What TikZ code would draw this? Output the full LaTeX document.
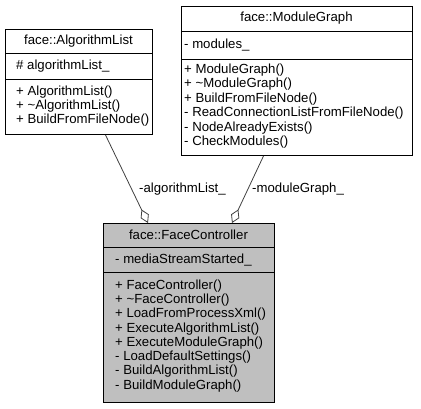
\documentclass[tikz,border=0pt]{standalone}
\usepackage{fontspec}
\setmainfont{Liberation Sans}
\usetikzlibrary{arrows.meta}

\tikzset{
  umlbox/.style={draw=black, line width=1pt, fill=white, inner sep=0pt, anchor=north west},
  divider/.style={draw=black, line width=1pt},
  title/.style={inner sep=0pt, anchor=center},
  member/.style={inner sep=0pt, anchor=west},
  aggr/.style={draw=black!75, line width=0.8pt,
    {Diamond[open, length=15pt, width=9pt, line width=0.8pt]}-},
  rolelabel/.style={inner sep=0pt, anchor=west},
}

\begin{document}
\begin{tikzpicture}[x=1pt, y=-1pt,
  every node/.append style={font=\fontsize{13.2pt}{14.3pt}\selectfont}]
\useasboundingbox (0,0) rectangle (421,408);

% --- face::AlgorithmList ---
\node[umlbox, minimum width=147pt, minimum height=105pt] (al) at (5,29) {};
\draw[divider] (5,53) -- (152,53);
\draw[divider] (5,79) -- (152,79);
\node[title]  (alT)  at (78.5,41) {face::AlgorithmList};
\node[member] (alA1) at (16,66.5) {\# algorithmList\_};
\node[member] (alM1) at (16,92)  {+ AlgorithmList()};
\node[member] (alM2) at (16,106) {+ \textasciitilde AlgorithmList()};
\node[member] (alM3) at (16,120) {+ BuildFromFileNode()};

% --- face::ModuleGraph ---
\node[umlbox, minimum width=231pt, minimum height=149pt] (mg) at (181,6) {};
\draw[divider] (181,31) -- (412,31);
\draw[divider] (181,59) -- (412,59);
\node[title]  (mgT)  at (296.5,18.5) {face::ModuleGraph};
\node[member] (mgA1) at (184,45.5) {- modules\_};
\node[member] (mgM1) at (184,70)    {+ ModuleGraph()};
\node[member] (mgM2) at (184,84.4)  {+ \textasciitilde ModuleGraph()};
\node[member] (mgM3) at (184,98.8)  {+ BuildFromFileNode()};
\node[member] (mgM4) at (184,113.2) {- ReadConnectionListFromFileNode()};
\node[member] (mgM5) at (184,127.6) {- NodeAlreadyExists()};
\node[member] (mgM6) at (184,142)   {- CheckModules()};

% --- face::FaceController ---
\node[umlbox, fill={rgb,255:red,191;green,191;blue,191},
      minimum width=171pt, minimum height=179pt] (fc) at (103,223) {};
\draw[divider] (103,247) -- (274,247);
\draw[divider] (103,272) -- (274,272);
\node[title]  (fcT)  at (188.5,235) {face::FaceController};
\node[member] (fcA1) at (115,260) {- mediaStreamStarted\_};
\node[member] (fcM1) at (115,285.7) {+ FaceController()};
\node[member] (fcM2) at (115,300)   {+ \textasciitilde FaceController()};
\node[member] (fcM3) at (115,314.3) {+ LoadFromProcessXml()};
\node[member] (fcM4) at (115,328.6) {+ ExecuteAlgorithmList()};
\node[member] (fcM5) at (115,342.9) {+ ExecuteModuleGraph()};
\node[member] (fcM6) at (115,357.2) {- LoadDefaultSettings()};
\node[member] (fcM7) at (115,371.5) {- BuildAlgorithmList()};
\node[member] (fcM8) at (115,385.8) {- BuildModuleGraph()};

% --- aggregations ---
\draw[aggr] ([xshift=-41pt]fc.north) -- ([xshift=26.5pt]al.south);
\draw[aggr] ([xshift=43pt]fc.north) -- ([xshift=-33.5pt]mg.south);
\node[rolelabel] (lblAl) at (139,189) {-algorithmList\_};
\node[rolelabel] (lblMg) at (252,189) {-moduleGraph\_};
\end{tikzpicture}
\end{document}
